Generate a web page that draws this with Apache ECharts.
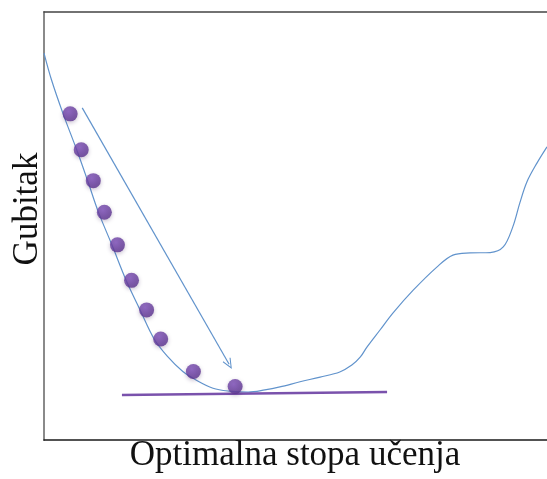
<!DOCTYPE html>
<html>
<head>
<meta charset="utf-8">
<script src="https://cdn.jsdelivr.net/npm/echarts@6/dist/echarts.min.js"></script>
<style>html,body{margin:0;padding:0;background:#fff;}#c{width:547px;height:479px;}</style>
</head>
<body>
<div id="c"></div>
<script>
// Loss curve (x: learning-rate axis 0-100, y: loss 0-100)
const curveX = [0, 1.5, 3.8, 6.5, 8.7, 10.8, 13.5, 16.3, 19.1, 21.9, 24.5, 27.6, 29.8, 33.6, 37.0, 40.6, 43.9, 46.9, 50.9, 54.9, 58.8, 61.2, 62.9, 64.2, 66.8, 69.4, 73.4, 78.1, 81.3, 84.7, 88.7, 91.3, 93.2, 94.6, 96.0, 98.0, 100];
const curveY = [90.4, 84.1, 76.2, 67.8, 60.5, 53.3, 45.6, 37.4, 30.4, 23.6, 19.6, 16.0, 14.3, 12.1, 11.4, 11.2, 11.7, 12.4, 13.6, 14.7, 15.9, 17.5, 19.4, 21.7, 25.7, 29.7, 35.0, 40.4, 43.2, 43.7, 43.8, 45.1, 49.8, 55.4, 60.3, 64.7, 68.5];
// Gradient-descent steps (balls)
const ballX = [5.2, 7.4, 9.8, 12.0, 14.6, 17.4, 20.4, 23.2, 29.7, 38.0];
const ballY = [76.2, 67.8, 60.6, 53.2, 45.6, 37.3, 30.4, 23.6, 16.0, 12.5];
// Tangent line at the minimum
const tangentX = [15.5, 68.2];
const tangentY = [10.5, 11.2];
// Direction arrow
const arrowX = [7.6, 36.8];
const arrowY = [77.6, 17.7];
const xTitle = 'Optimalna stopa učenja';
const yTitle = 'Gubitak';

const zip = (a, b) => a.map((v, i) => [v, b[i]]);

const chart = echarts.init(document.getElementById('c'), null, {renderer: 'canvas'});
const serif = 'Liberation Serif';
chart.setOption({
  animation: false,
  backgroundColor: '#ffffff',
  grid: {left: 44, top: 12, right: 0, bottom: 39, containLabel: false},
  xAxis: [
    {type: 'value', min: 0, max: 100, position: 'bottom',
     axisLine: {show: true, lineStyle: {color: '#1a1a1a', width: 1.5}},
     axisTick: {show: false}, axisLabel: {show: false}, splitLine: {show: false}},
    {type: 'value', min: 0, max: 100, position: 'top',
     axisLine: {show: true, lineStyle: {color: '#444444', width: 1.5}},
     axisTick: {show: false}, axisLabel: {show: false}, splitLine: {show: false}}
  ],
  yAxis: {type: 'value', min: 0, max: 100,
    axisLine: {show: true, lineStyle: {color: '#8a8a8a', width: 2}},
    axisTick: {show: false}, axisLabel: {show: false}, splitLine: {show: false}},
  graphic: [
    {type: 'text', x: 295, y: 456, style: {text: xTitle, font: '35px "' + serif + '"', fill: '#111', align: 'center', verticalAlign: 'middle'}},
    {type: 'text', x: 28, y: 209, rotation: Math.PI / 2, style: {text: yTitle, font: '35px "' + serif + '"', fill: '#111', align: 'center', verticalAlign: 'middle'}}
  ],
  series: [
    {type: 'line', data: zip(curveX, curveY), smooth: 0.35, showSymbol: false, symbol: 'none',
     lineStyle: {color: '#6193cc', width: 1.2}, z: 2},
    {type: 'line', data: zip(tangentX, tangentY), showSymbol: false, symbol: 'none',
     lineStyle: {color: '#7a52ac', width: 2.5}, z: 3},
    {type: 'line', data: [], symbol: 'none',
     markLine: {silent: true, symbol: ['none', 'path://M0,10 L5,0 L10,10 L9,10.6 L5,2.4 L1,10.6 Z'], symbolSize: [9, 11],
       label: {show: false},
       lineStyle: {color: '#6193cc', width: 1.2, type: 'solid', curveness: 0},
       data: [[{coord: [arrowX[0], arrowY[0]]}, {coord: [arrowX[1], arrowY[1]]}]]}},
    {type: 'scatter', data: zip(ballX, ballY), symbolSize: 15, z: 5,
     itemStyle: {
       color: {type: 'radial', x: 0.4, y: 0.35, r: 0.7, colorStops: [{offset: 0, color: '#7e4fba'}, {offset: 1, color: '#58308a'}]},
       shadowBlur: 4, shadowColor: 'rgba(60,30,90,0.35)', shadowOffsetY: 1.5}}
  ]
});
</script>
</body>
</html>
